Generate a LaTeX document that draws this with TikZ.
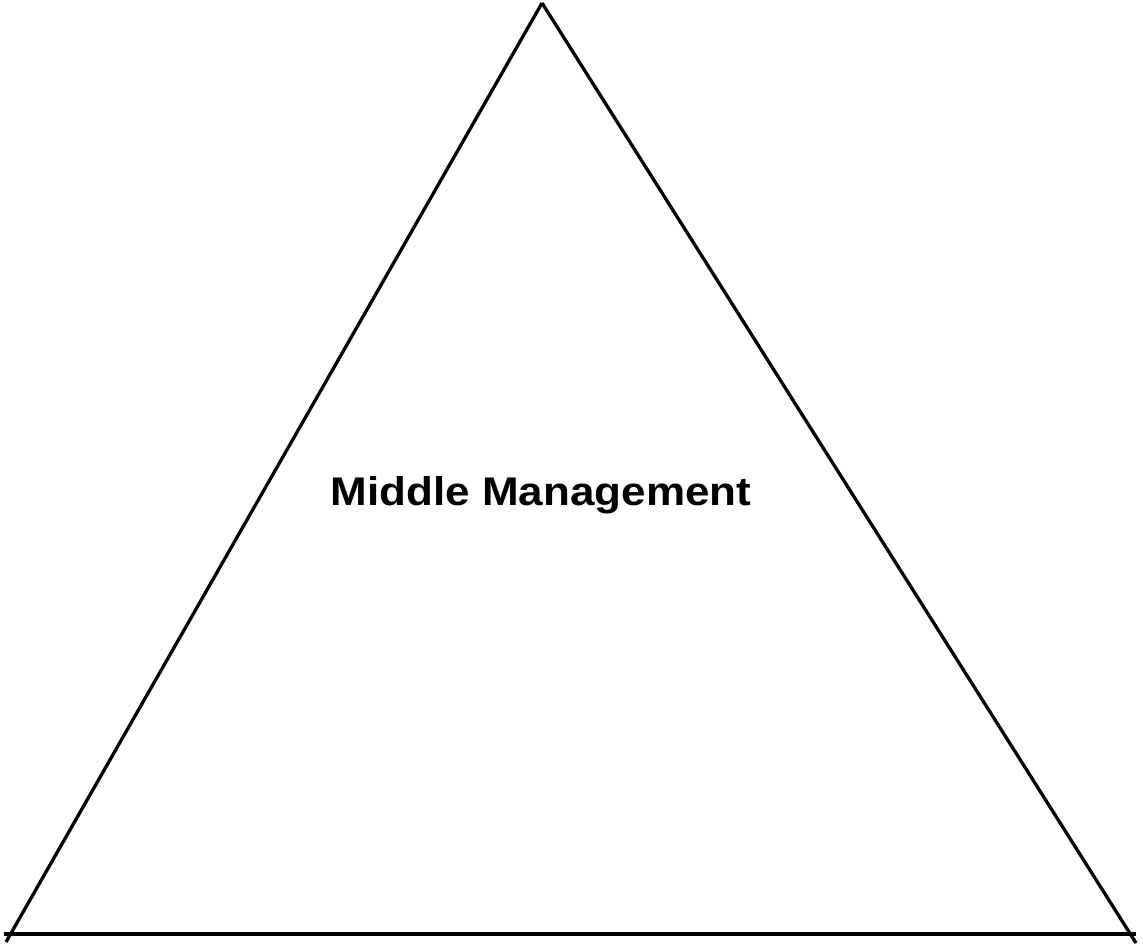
\documentclass[tikz,border=0pt]{standalone}
\usepackage{fontspec}
\setmainfont{Liberation Sans}
\begin{document}
\begin{tikzpicture}[x=1pt,y=-1pt,
  edge/.style={line width=3.3pt,black},
  label/.style={font=\bfseries\fontsize{40}{48}\selectfont,inner sep=0pt,anchor=base,xscale=1.1}]
\useasboundingbox (0,0) rectangle (1143,949);
\coordinate (apex) at (542,3);
\coordinate (bl) at (6,942);
\coordinate (br) at (1136,943);
\coordinate (hl) at (4,934);
\coordinate (hr) at (1136,934);
\draw[edge] (apex) -- (bl);
\draw[edge] (apex) -- (br);
\draw[edge] (hl) -- (hr);
\node[label] (mm) at (541,505) {Middle Management};
\end{tikzpicture}
\end{document}
